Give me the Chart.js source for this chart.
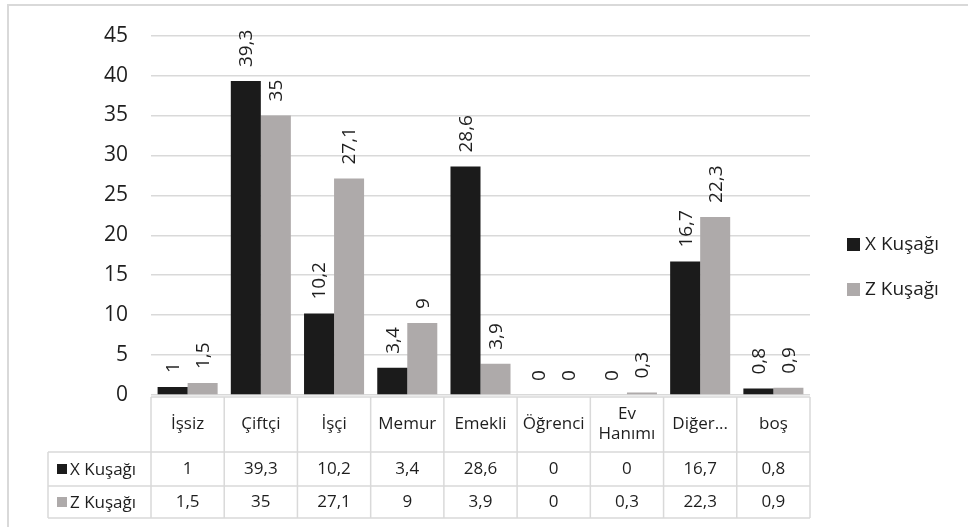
<!DOCTYPE html>
<html>
<head>
<meta charset="utf-8">
<script src="https://cdn.jsdelivr.net/npm/chart.js@4.4.1/dist/chart.umd.min.js"></script>
<style>
  html, body { margin: 0; padding: 0; background: #fff; }
  #wrap { width: 968px; height: 527px; position: relative; }
</style>
</head>
<body>
<div id="wrap"><canvas id="grafik" width="968" height="527"></canvas></div>
<script>
// kategori + nilai (persen)
const kategori = ['İşsiz', 'Çiftçi', 'İşçi', 'Memur', 'Emekli', 'Öğrenci', ['Ev', 'Hanımı'], 'Diğer...', 'boş'];
const seriNama = ['X Kuşağı', 'Z Kuşağı'];
const xKusagi = [1, 39.3, 10.2, 3.4, 28.6, 0, 0, 16.7, 0.8];
const zKusagi = [1.5, 35, 27.1, 9, 3.9, 0, 0.3, 22.3, 0.9];
const yTicks = [0, 5, 10, 15, 20, 25, 30, 35, 40, 45];

const warna = ['#1b1b1b', '#aeaaaa'];
const garis = '#d9d9d9';
const teks = '#1e1e1e';
const FONT = '"Open Sans", sans-serif';

function fmt(v) {
    return String(v).replace('.', ',');
}

// label nilai diputar di atas batang
const labelNilai = {
    id: 'labelNilai',
    afterDatasetsDraw(chart) {
        const ctx = chart.ctx;
        ctx.save();
        ctx.fillStyle = teks;
        ctx.font = '19px ' + FONT;
        ctx.textAlign = 'left';
        ctx.textBaseline = 'middle';
        chart.data.datasets.forEach((ds, di) => {
            const meta = chart.getDatasetMeta(di);
            meta.data.forEach((bar, i) => {
                ctx.save();
                ctx.translate(bar.x + 1, bar.y - 14);
                ctx.rotate(-Math.PI / 2);
                ctx.fillText(fmt(ds.data[i]), 0, 0);
                ctx.restore();
            });
        });
        ctx.restore();
    }
};

// tabel data di bawah grafik + legenda kanan
const tabelData = {
    id: 'tabelData',
    afterDraw(chart) {
        const ctx = chart.ctx;
        const xs = chart.scales.x;
        const area = chart.chartArea;
        const n = kategori.length;
        const lebar = (area.right - area.left) / n;
        const kiri = area.left, kanan = area.right;
        const y0 = area.bottom + 2, y1 = y0 + 55, y2 = y1 + 34, y3 = y2 + 32;
        const legKiri = 48;

        ctx.save();
        // bingkai luar
        ctx.strokeStyle = garis;
        ctx.lineWidth = 2;
        ctx.strokeRect(8, 5, 1100, 700);

        ctx.lineWidth = 1.5;
        ctx.beginPath();
        // garis horizontal
        ctx.moveTo(kiri, y0); ctx.lineTo(kanan, y0);
        ctx.moveTo(legKiri, y1); ctx.lineTo(kanan, y1);
        ctx.moveTo(legKiri, y2); ctx.lineTo(kanan, y2);
        ctx.moveTo(legKiri, y3); ctx.lineTo(kanan, y3);
        // garis vertikal
        ctx.moveTo(legKiri, y1); ctx.lineTo(legKiri, y3);
        for (let i = 0; i <= n; i++) {
            const x = kiri + i * lebar;
            ctx.moveTo(x, y0); ctx.lineTo(x, y3);
        }
        ctx.stroke();

        ctx.fillStyle = teks;
        ctx.font = '17px ' + FONT;
        ctx.textAlign = 'center';
        ctx.textBaseline = 'middle';
        kategori.forEach((lab, i) => {
            const cx = xs.getPixelForValue(i);
            if (Array.isArray(lab)) {
                ctx.fillText(lab[0], cx, (y0 + y1) / 2 - 10);
                ctx.fillText(lab[1], cx, (y0 + y1) / 2 + 10);
            } else {
                ctx.fillText(lab, cx, (y0 + y1) / 2);
            }
            ctx.fillText(fmt(xKusagi[i]), cx, (y1 + y2) / 2);
            ctx.fillText(fmt(zKusagi[i]), cx, (y2 + y3) / 2);
        });

        // kunci legenda di tabel
        ctx.textAlign = 'left';
        [[y1, y2], [y2, y3]].forEach((r, k) => {
            const cy = (r[0] + r[1]) / 2;
            ctx.fillStyle = warna[k];
            ctx.fillRect(57, cy - 5, 10, 10);
            ctx.fillStyle = teks;
            ctx.fillText(seriNama[k], 70, cy + 1);
        });

        // legenda kanan
        ctx.font = '19px ' + FONT;
        [245, 290].forEach((cy, k) => {
            ctx.fillStyle = warna[k];
            ctx.fillRect(847, cy - 7, 13, 13);
            ctx.fillStyle = teks;
            ctx.fillText(seriNama[k], 865, cy);
        });
        ctx.restore();
    }
};

const ctx = document.getElementById('grafik').getContext('2d');
new Chart(ctx, {
    type: 'bar',
    data: {
        labels: kategori.map(k => Array.isArray(k) ? k.join(' ') : k),
        datasets: [
            { label: seriNama[0], data: xKusagi, backgroundColor: warna[0] },
            { label: seriNama[1], data: zKusagi, backgroundColor: warna[1] }
        ]
    },
    options: {
        responsive: false,
        animation: false,
        layout: {
            padding: { left: 0, right: 158, top: 32, bottom: 132 }
        },
        datasets: {
            bar: { categoryPercentage: 0.82, barPercentage: 1.0 }
        },
        scales: {
            x: {
                display: false
            },
            y: {
                min: 0,
                max: 45,
                afterBuildTicks: (axis) => {
                    axis.ticks = yTicks.map(v => ({ value: v }));
                },
                afterFit: (axis) => { axis.width = 151; },
                border: { display: false },
                grid: { color: garis, lineWidth: 1.5, drawTicks: false },
                ticks: {
                    padding: 23,
                    color: teks,
                    font: { family: FONT, size: 21 }
                }
            }
        },
        plugins: {
            legend: { display: false },
            tooltip: { enabled: false }
        }
    },
    plugins: [labelNilai, tabelData]
});
</script>
</body>
</html>
